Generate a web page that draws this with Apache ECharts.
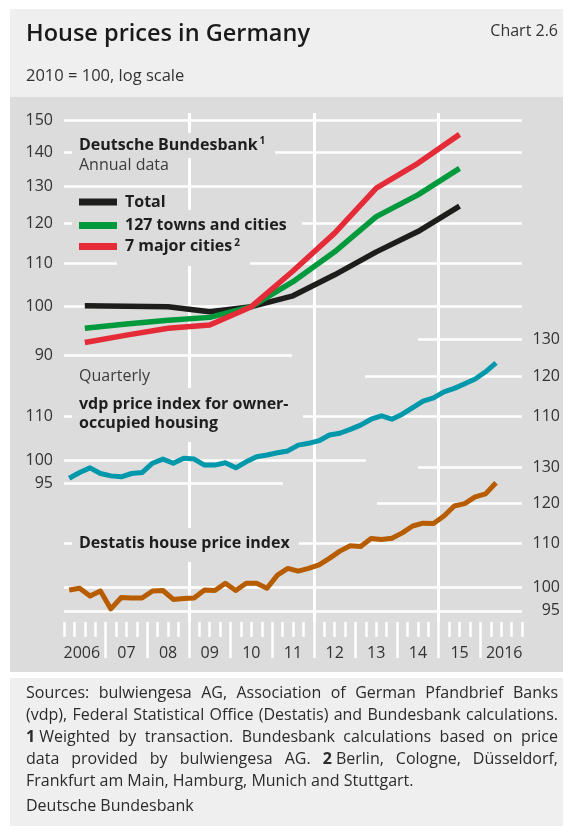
<!DOCTYPE html>
<html><head><meta charset="utf-8">
<script src="https://cdn.jsdelivr.net/npm/echarts@6/dist/echarts.min.js"></script>
<style>html,body{margin:0;padding:0;background:#fff}#c{width:573px;height:832px}</style>
</head><body><div id="c"></div>
<script>
// ---------------- data ----------------
const annualYears = [2006, 2007, 2008, 2009, 2010, 2011, 2012, 2013, 2014, 2015];
const totalIdx = [100.2, 100.1, 100.0, 98.9, 100.0, 102.4, 107.2, 112.7, 117.8, 124.5];
const townsIdx = [95.4, 96.3, 97.1, 97.7, 100.0, 105.6, 112.7, 121.7, 127.6, 135.2];
const majorIdx = [92.5, 94.0, 95.4, 96.1, 100.0, 108.1, 117.4, 129.5, 136.7, 145.6];
const quarterStartYear = 2006;
const vdpIdx = [96.1, 97.3, 98.3, 97.1, 96.6, 96.4, 97.1, 97.3, 99.3, 100.2, 99.3, 100.4,
  100.2, 98.9, 98.9, 99.4, 98.3, 99.6, 100.7, 101.1, 101.6, 102.0, 103.3, 103.7,
  104.3, 105.6, 106.0, 106.9, 107.9, 109.3, 110.1, 109.3, 110.5, 112.1, 113.7, 114.5,
  116.0, 116.9, 118.1, 119.3, 121.2, 123.6];
const destatisIdx = [99.4, 99.8, 98.1, 99.2, 95.4, 97.8, 97.7, 97.7, 99.2, 99.3, 97.4, 97.6,
  97.7, 99.4, 99.3, 100.9, 99.3, 100.9, 100.9, 99.8, 102.7, 104.2, 103.6, 104.2,
  105.0, 106.5, 108.2, 109.5, 109.3, 111.2, 111.0, 111.3, 112.6, 114.3, 115.0, 114.9,
  116.8, 119.4, 120.0, 121.8, 122.6, 125.6];
const topTicks = [90, 100, 110, 120, 130, 140, 150];
const vdpLeftTicks = [95, 100, 110];
const vdpRightTicks = [110, 120, 130];
const destatisTicks = [95, 100, 110, 120, 130];
const yearLabels = ['2006', '07', '08', '09', '10', '11', '12', '13', '14', '15', '2016'];
const seriesNames = ['Total', '127 towns and cities', '7 major cities'];

// ---------------- layout / style ----------------
const FONT = '"Open Sans", "Noto Sans", sans-serif';
const TXT = '#333333';
const DARK = '#1e1e1e';
const PANEL = '#dcdcdc';
const LIGHT = '#efefef';
const COLORS = { total: '#1d1d1b', towns: '#009a3d', major: '#e52a38', vdp: '#0098aa', destatis: '#b85c00' };
const X_MIN = 2006, X_MAX = 2017;
// horizontal white grid segments: [value, fromYear, toYear]
const topGridSegs = [[150, 2006, 2017], [140, 2006, 2006.19], [140, 2011.07, 2017], [130, 2006, 2017],
  [120, 2006, 2006.19], [120, 2011.71, 2017], [110, 2006, 2007.27], [110, 2010.47, 2017],
  [100, 2006, 2017], [90, 2006, 2011.48]];
const vdpGridSegs = [[130, 2014.5, 2017], [120, 2013.23, 2017], [110, 2006, 2006.19], [110, 2011.74, 2017],
  [100, 2006, 2013.25], [95, 2006, 2011.26]];
const desGridSegs = [[130, 2014.5, 2017], [120, 2013.52, 2017], [110, 2006, 2006.19], [110, 2011.64, 2017],
  [100, 2006, 2017], [95, 2006, 2017]];
// vertical grid segments in background grid (pixel offsets from its top)
const vertSegs = [[2009, 0, 20], [2009, 45, 97], [2009, 153, 275], [2009, 329, 415], [2009, 449, 509],
  [2012, 0, 509], [2015, 0, 509]];
const SHORT_TICK = 15, LONG_TICK = 36;

const quarterTicks = [];
for (let k = 0; k <= (X_MAX - X_MIN) * 4; k++) { if (k % 4 !== 0 || k === 0 || k === (X_MAX - X_MIN) * 4) quarterTicks.push(X_MIN + k / 4); }
const yearTicks = [];
for (let y = X_MIN + 1; y < X_MAX; y++) yearTicks.push(y);
const yearMids = yearLabels.map((_, i) => X_MIN + i + 0.5);

function segSeries(xi, yi, segs, w) {
  return {
    type: 'line', xAxisIndex: xi, yAxisIndex: yi, data: [], silent: true, z: 1, animation: false,
    markLine: {
      silent: true, animation: false, symbol: ['none', 'none'], label: { show: false },
      emphasis: { disabled: true },
      lineStyle: { color: '#ffffff', width: w, type: 'solid', opacity: 1 },
      data: segs
    }
  };
}
const hSegs = segs => segs.map(s => [{ coord: [s[1], s[0]] }, { coord: [s[2], s[0]] }]);
const vSegs = segs => segs.map(s => [{ coord: [s[0], s[1]] }, { coord: [s[0], s[2]] }]);

function lineSeries(name, xi, yi, xs, ys, color, w) {
  return {
    type: 'line', name: name, xAxisIndex: xi, yAxisIndex: yi, z: 5, animation: false,
    data: ys.map((v, i) => [xs[i], v]), showSymbol: false, symbol: 'none', silent: true,
    lineStyle: { color: color, width: w, cap: 'butt', join: 'round' }
  };
}
const annualX = annualYears.map(y => y + 0.5);
const quarterX = vdpIdx.map((_, i) => quarterStartYear + (i + 0.5) / 4);
const quarterX2 = destatisIdx.map((_, i) => quarterStartYear + (i + 0.5) / 4);

const ylab = (ticks, marginPx, align) => ({
  show: true, customValues: ticks, formatter: v => String(Math.round(v)),
  color: TXT, fontSize: 16, fontFamily: FONT, margin: marginPx, align: align
});
const hiddenY = { axisLine: { show: false }, axisTick: { show: false }, splitLine: { show: false } };

// ---------------- footer text (justified) ----------------
const W1 = s => s.split(' ').map(w => [[w, false]]);
const footLines = [
  { j: true, words: W1('Sources: bulwiengesa AG, Association of German Pfandbrief Banks') },
  { j: true, words: W1('(vdp), Federal Statistical Office (Destatis) and Bundesbank calculations.') },
  { j: true, words: [[['1', true], [' Weighted', false]]].concat(W1('by transaction. Bundesbank calculations based on price')) },
  { j: true, words: W1('data provided by bulwiengesa AG.').concat([[['2', true], [' Berlin,', false]]]).concat(W1('Cologne, Düsseldorf,')) },
  { j: false, words: W1('Frankfurt am Main, Hamburg, Munich and Stuttgart.') },
  { j: false, words: W1('Deutsche Bundesbank') }
];
const footY = [693, 715, 737, 759, 781, 806];
const FOOT_X0 = 26, FOOT_X1 = 558;
const mctx = document.createElement('canvas').getContext('2d');
function fnt(bold, fs) { return (bold ? 'bold ' : '') + fs + 'px ' + FONT; }
function mw(t, bold, fs) { mctx.font = fnt(bold, fs); return mctx.measureText(t).width; }
let footFs = 16;
function natural(line, fs) {
  let s = 0; line.words.forEach(w => w.forEach(sg => s += mw(sg[0], sg[1], fs)));
  return s + mw(' ', false, fs) * 1.1 * (line.words.length - 1);
}
while (footFs > 11 && footLines.some(l => natural(l, footFs) > FOOT_X1 - FOOT_X0)) footFs -= 0.25;
const footEls = [];
footLines.forEach((line, li) => {
  const widths = line.words.map(w => w.reduce((a, sg) => a + mw(sg[0], sg[1], footFs), 0));
  const tot = widths.reduce((a, b) => a + b, 0);
  const gap = line.j ? (FOOT_X1 - FOOT_X0 - tot) / (line.words.length - 1) : mw(' ', false, footFs);
  let x = FOOT_X0;
  line.words.forEach((w, wi) => {
    let xx = x;
    w.forEach(sg => {
      footEls.push({ type: 'text', x: xx, y: footY[li], silent: true, z: 10,
        style: { text: sg[0], font: fnt(sg[1], footFs), fill: '#2b2b2b', align: 'left', verticalAlign: 'middle' } });
      xx += mw(sg[0], sg[1], footFs);
    });
    x += widths[wi] + gap;
  });
});

function txt(x, y, text, font, fill, align) {
  return { type: 'text', x: x, y: y, silent: true, z: 10,
    style: { text: text, font: font, fill: fill, align: align || 'left', verticalAlign: 'middle' } };
}
const BOLD = 'bold 16px ' + FONT;
const REG = '16px ' + FONT;
const supRich = { b: { font: BOLD, fill: DARK }, s: { font: 'bold 10px ' + FONT, fill: DARK, padding: [0, 0, 7, 2] } };

const graphics = [
  { type: 'rect', shape: { x: 10, y: 9, width: 553, height: 88 }, style: { fill: LIGHT }, z: -10, silent: true },
  { type: 'rect', shape: { x: 10, y: 97, width: 553, height: 575 }, style: { fill: PANEL }, z: -10, silent: true },
  { type: 'rect', shape: { x: 10, y: 678, width: 553, height: 148 }, style: { fill: LIGHT }, z: -10, silent: true },
  txt(26, 34, 'House prices in Germany', '600 23.5px ' + FONT, '#1a1a1a'),
  txt(558, 31, 'Chart 2.6', '16px ' + FONT, TXT, 'right'),
  txt(26, 76, '2010 = 100, log scale', '16.5px ' + FONT, TXT),
  { type: 'text', x: 79, y: 145, silent: true, z: 10, style: { text: '{b|Deutsche Bundesbank}{s|1}', rich: supRich, font: BOLD, fill: DARK, verticalAlign: 'middle' } },
  txt(79, 165, 'Annual data', REG, '#3c3c3c'),
  { type: 'rect', shape: { x: 79, y: 198.5, width: 38, height: 7 }, style: { fill: COLORS.total }, z: 10, silent: true },
  { type: 'rect', shape: { x: 79, y: 222, width: 38, height: 7 }, style: { fill: COLORS.towns }, z: 10, silent: true },
  { type: 'rect', shape: { x: 79, y: 243, width: 38, height: 7 }, style: { fill: COLORS.major }, z: 10, silent: true },
  txt(125, 202, seriesNames[0], BOLD, DARK),
  txt(125, 225.7, seriesNames[1], BOLD, DARK),
  { type: 'text', x: 125, y: 246.7, silent: true, z: 10, style: { text: '{b|' + seriesNames[2] + '}{s|2}', rich: supRich, font: BOLD, fill: DARK, verticalAlign: 'middle' } },
  txt(79, 376, 'Quarterly', REG, '#3c3c3c'),
  txt(79, 404.3, 'vdp price index for owner-', BOLD, DARK),
  txt(79, 423.3, 'occupied housing', BOLD, DARK),
  txt(79, 543.3, 'Destatis house price index', BOLD, DARK)
].concat(footEls);

const option = {
  backgroundColor: '#ffffff',
  animation: false,
  grid: [
    { left: 64, right: 51, top: 113, height: 509 },
    { left: 64, right: 51, top: 111.63, height: 253.71 },
    { left: 64, right: 51, top: 332.65, height: 155.73 },
    { left: 64, right: 51, top: 459.95, height: 160.64 },
    { left: 64, right: 51, top: 622, height: LONG_TICK }
  ],
  xAxis: [
    { gridIndex: 0, type: 'value', min: X_MIN, max: X_MAX, position: 'bottom',
      axisLine: { show: false, onZero: false }, splitLine: { show: false }, axisTick: { show: false },
      axisLabel: { show: true, customValues: yearMids, margin: 23, color: TXT, fontSize: 16, fontFamily: FONT,
        formatter: v => { const i = Math.round(v - X_MIN - 0.5); const s = yearLabels[i];
          return i === 0 ? '{l|' + s + '}' : (i === yearLabels.length - 1 ? '{r|' + s + '}' : s); },
        rich: { l: { padding: [0, 6, 0, 0], fontSize: 16, fontFamily: FONT, color: TXT },
                r: { padding: [0, 0, 0, 6], fontSize: 16, fontFamily: FONT, color: TXT } } } },
    { gridIndex: 1, type: 'value', min: X_MIN, max: X_MAX, show: false },
    { gridIndex: 2, type: 'value', min: X_MIN, max: X_MAX, show: false },
    { gridIndex: 3, type: 'value', min: X_MIN, max: X_MAX, show: false },
    { gridIndex: 4, type: 'value', min: X_MIN, max: X_MAX, show: false }
  ],
  yAxis: [
    Object.assign({ gridIndex: 1, type: 'log', logBase: 10, min: 88, max: 153, position: 'left', axisLabel: ylab(topTicks, 11, 'right') }, hiddenY),
    Object.assign({ gridIndex: 2, type: 'log', logBase: 10, min: 94, max: 132, position: 'left', axisLabel: ylab(vdpLeftTicks, 11, 'right') }, hiddenY),
    Object.assign({ gridIndex: 2, type: 'log', logBase: 10, min: 94, max: 132, position: 'right', axisLabel: ylab(vdpRightTicks, 38, 'right') }, hiddenY),
    Object.assign({ gridIndex: 3, type: 'log', logBase: 10, min: 93, max: 132, position: 'right', axisLabel: ylab(destatisTicks, 38, 'right') }, hiddenY),
    Object.assign({ gridIndex: 0, type: 'value', min: 0, max: 509, inverse: true, show: false }, hiddenY),
    Object.assign({ gridIndex: 4, type: 'value', min: 0, max: LONG_TICK, inverse: true, show: false }, hiddenY)
  ],
  series: [
    segSeries(0, 4, vSegs(vertSegs), 3),
    segSeries(4, 5, vSegs(quarterTicks.map(q => [q, 0, SHORT_TICK])), 2.5),
    segSeries(4, 5, vSegs(yearTicks.map(y => [y, 0, LONG_TICK])), 2.5),
    segSeries(1, 0, hSegs(topGridSegs), 2.5),
    segSeries(2, 1, hSegs(vdpGridSegs), 2.5),
    segSeries(3, 3, hSegs(desGridSegs), 2.5),
    lineSeries(seriesNames[0], 1, 0, annualX, totalIdx, COLORS.total, 5.5),
    lineSeries(seriesNames[1], 1, 0, annualX, townsIdx, COLORS.towns, 5.5),
    lineSeries(seriesNames[2], 1, 0, annualX, majorIdx, COLORS.major, 5.5),
    lineSeries('vdp price index for owner-occupied housing', 2, 1, quarterX, vdpIdx, COLORS.vdp, 5),
    lineSeries('Destatis house price index', 3, 3, quarterX2, destatisIdx, COLORS.destatis, 5)
  ],
  graphic: { elements: graphics }
};
const chart = echarts.init(document.getElementById('c'), null, { renderer: 'canvas', width: 573, height: 832 });
chart.setOption(option);
</script></body></html>
